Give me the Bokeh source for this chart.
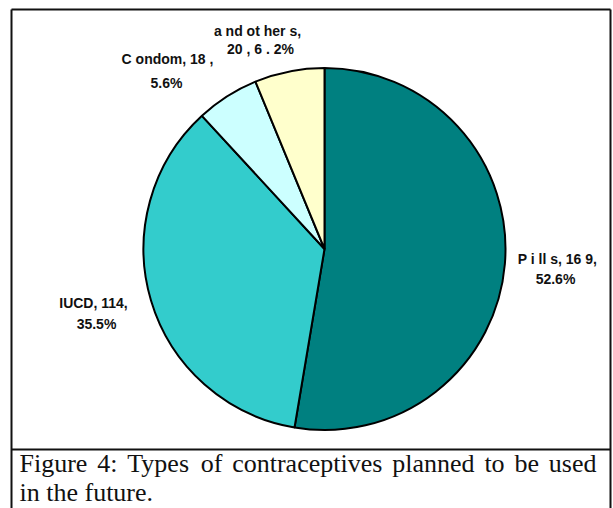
import numpy as np
from bokeh.plotting import figure
from bokeh.models import Range1d, ColumnDataSource
from bokeh.core.properties import value
from bokeh.embed import file_html
from bokeh.resources import INLINE

# Contraceptive methods planned for future use
methods = ["Pills", "IUCD", "Condom", "and others"]
counts = [169, 114, 18, 20]
shares = [52.6, 35.5, 5.6, 6.2]
colors = ["#008080", "#33CCCC", "#CCFFFF", "#FFFFCC"]
label_line1 = ["P i ll s, 16 9,", "IUCD, 114,", "C ondom, 18 ,", "a nd ot her s,"]
label_line2 = ["52.6%", "35.5%", "5.6%", "20 , 6 . 2%"]
caption_lines = ["Figure 4: Types of contraceptives planned to be used",
                 "in the future."]

W, H = 613, 508

p = figure(width=W, height=H, output_backend="svg", toolbar_location=None,
           x_range=Range1d(0, W), y_range=Range1d(0, H), min_border=0)
p.axis.visible = False
p.grid.visible = False
p.outline_line_color = None
p.background_fill_color = "white"
p.border_fill_color = "white"


def Y(py):
    # page pixels measured from the top
    return H - py


# pie, clockwise from 12 o'clock
vals = np.array(counts, dtype=float)
frac = vals / vals.sum()
cum = np.concatenate([[0.0], np.cumsum(frac)])
start = np.pi / 2 - cum[:-1] * 2 * np.pi
end = np.pi / 2 - cum[1:] * 2 * np.pi

cx, cy, r = 324, Y(248.5), 181
src = ColumnDataSource(dict(start=start, end=end, color=colors, method=methods))
p.wedge(x=cx, y=cy, radius=r, start_angle="start", end_angle="end",
        direction="clock", fill_color="color", line_color="black",
        line_width=2, source=src)

# data labels
lab_font = dict(text_font=value("Liberation Sans"), text_font_style="bold",
                text_font_size="14px", text_align="center",
                text_baseline="middle", text_color="#111111")
lab_x1 = [557, 93, 167, 257]
lab_y1 = [258, 302, 58, 30]
lab_x2 = [555, 96, 166, 260]
lab_y2 = [278, 323, 82, 48]
p.text(x=lab_x1, y=[Y(v) for v in lab_y1], text=label_line1, **lab_font)
p.text(x=lab_x2, y=[Y(v) for v in lab_y2], text=label_line2, **lab_font)

# frame around chart and caption
frame_col = "#111111"
p.line(x=[11, 11], y=[Y(9), Y(H + 5)], line_color=frame_col, line_width=2)
p.line(x=[610, 610], y=[Y(9), Y(H + 5)], line_color=frame_col, line_width=2)
p.line(x=[11, 610], y=[Y(9), Y(9)], line_color=frame_col, line_width=2)
p.line(x=[11, 610], y=[Y(449), Y(449)], line_color=frame_col, line_width=2)

# caption: first line justified between the frame margins
cap_size = 26
times_w = {" ": 250, "F": 556, "i": 278, "g": 500, "u": 500, "r": 333,
           "e": 444, "4": 500, ":": 278, "T": 611, "y": 500, "p": 500,
           "s": 389, "o": 500, "f": 333, "c": 444, "n": 500, "t": 278,
           "a": 444, "l": 278, "v": 500, "b": 500, "d": 500, "h": 500,
           ".": 250}


def text_width(s):
    return sum(times_w.get(ch, 500) for ch in s) * cap_size / 1000.0


left, right = 19, 596
words = caption_lines[0].split(" ")
widths = [text_width(w) for w in words]
gap = (right - left - sum(widths)) / (len(words) - 1)
word_x = []
pos = left
for w in widths:
    word_x.append(pos)
    pos += w + gap

cap_font = dict(text_font=value("Liberation Serif"),
                text_font_size=f"{cap_size}px", text_align="left",
                text_baseline="alphabetic", text_color="#111111")
p.text(x=word_x, y=[Y(463)] * len(words), text=words, **cap_font)
p.text(x=[left], y=[Y(492)], text=[caption_lines[1]], **cap_font)

open("out.html", "w").write(file_html(p, INLINE))
